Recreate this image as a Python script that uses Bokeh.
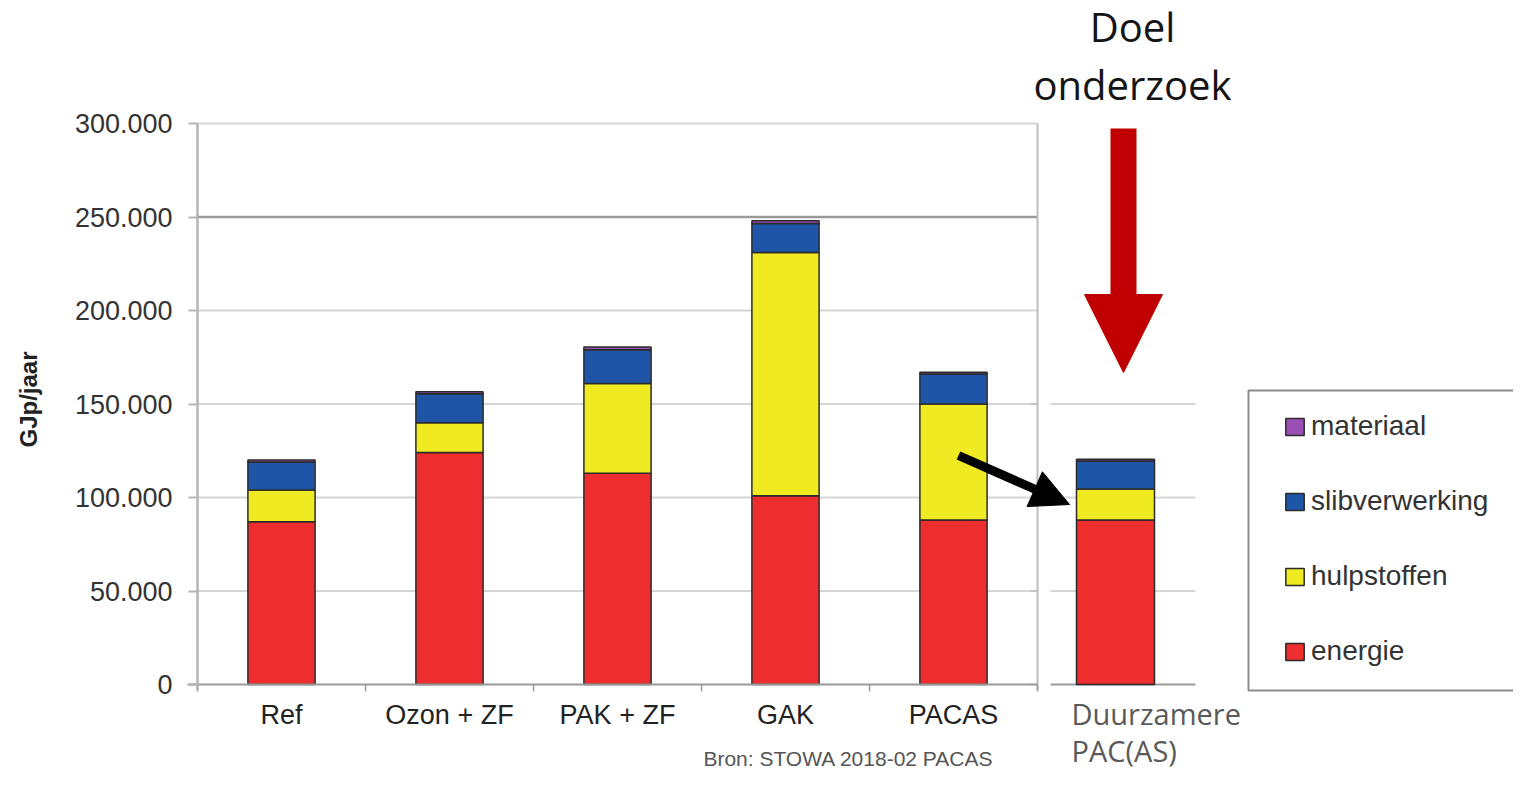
import math
from bokeh.plotting import figure
from bokeh.models import (ColumnDataSource, LinearAxis, FixedTicker, Legend,
                          LegendItem, Arrow, NormalHead, Range1d)
from bokeh.core.properties import value
from bokeh.embed import file_html
from bokeh.resources import INLINE

# ---------------- data ----------------
categories = ["Ref", "Ozon + ZF", "PAK + ZF", "GAK", "PACAS", "Duurzamere PAC(AS)"]
energie        = [87000, 124000, 113000, 101000, 88000, 88000]
hulpstoffen    = [17000,  16000,  48000, 130000, 62000, 16500]
slibverwerking = [15000,  15500,  18000,  15500, 16000, 15000]
materiaal      = [ 1000,   1000,   1500,   1500,  1000,  1000]
series = ["energie", "hulpstoffen", "slibverwerking", "materiaal"]
colors = ["#EE2D2E", "#EFEA22", "#1F55A6", "#9B4FB5"]
y_ticks = [0, 50000, 100000, 150000, 200000, 250000, 300000]
y_tick_labels = ["0", "50.000", "100.000", "150.000", "200.000", "250.000", "300.000"]
side_grid = [0, 50000, 100000, 150000]
y_label = "GJp/jaar"
title_lines = ["Doel", "onderzoek"]
source_note = "Bron: STOWA 2018-02 PACAS"

# ---------------- layout helpers (page pixels -> data) ----------------
W, H = 1513, 770
OFF = 0
PX_CAT = 168.0
X_C0 = 281.0           # page x of first category centre
Y_0 = 684.0            # page y of value 0
PX_UNIT = 561.0 / 300000.0

def dx(px):
    return (px - X_C0) / PX_CAT

def dy(py):
    return (Y_0 - py) / PX_UNIT

def mid(baseline_py, size):
    # anchor for a middle-baseline text whose letters sit on baseline_py
    return dy(baseline_py - 0.40 * size)

p = figure(width=W, height=H, x_range=Range1d(dx(OFF), dx(OFF + W)),
           y_range=Range1d(dy(OFF + H), dy(OFF)),
           x_axis_type=None, y_axis_type=None, toolbar_location=None,
           output_backend="svg", min_border=0, outline_line_color=None,
           background_fill_color="white", border_fill_color="white")

n_main = 5
main_x = list(range(n_main))
bar_x = main_x + [dx(1115)]
bar_w = [0.4] * n_main + [78 / PX_CAT]

# ---------------- grid lines ----------------
gv = y_ticks[1:]
p.segment(x0=[-0.5] * len(gv), x1=[n_main - 0.5] * len(gv), y0=gv, y1=gv,
          line_color=["#9a9a9a" if v == 250000 else "#d6d6d6" for v in gv],
          line_width=[2.5 if v == 250000 else 2 for v in gv])
p.segment(x0=[dx(1050)] * len(side_grid), x1=[dx(1195)] * len(side_grid),
          y0=side_grid, y1=side_grid,
          line_color=["#9a9a9a" if v == 0 else "#d6d6d6" for v in side_grid],
          line_width=2)
# right border of main panel
p.segment(x0=[n_main - 0.5], x1=[n_main - 0.5], y0=[dy(690)], y1=[y_ticks[-1]],
          line_color="#bdbdbd", line_width=2)
# small ticks of side panel
p.segment(x0=[dx(1030)] * len(side_grid), x1=[n_main - 0.5] * len(side_grid),
          y0=side_grid, y1=side_grid, line_color="#bdbdbd", line_width=1.5)

# ---------------- bars ----------------
src = ColumnDataSource(dict(x=bar_x, w=bar_w, energie=energie, hulpstoffen=hulpstoffen,
                            slibverwerking=slibverwerking, materiaal=materiaal))
renderers = p.vbar_stack(series, x="x", width="w", source=src,
                         fill_color=colors, line_color="#2b2b2b", line_width=1.5)

# ---------------- axes ----------------
yaxis = LinearAxis(fixed_location=-0.5, bounds=(dy(690), y_ticks[-1]),
                   ticker=FixedTicker(ticks=y_ticks, minor_ticks=[]),
                   major_label_overrides=dict(zip(y_ticks, y_tick_labels)),
                   axis_line_color="#b5b5b5", axis_line_width=2.5,
                   major_tick_out=9, major_tick_in=0, major_tick_line_color="#b5b5b5",
                   major_tick_line_width=2, minor_tick_out=0, minor_tick_in=0,
                   major_label_text_font="Liberation Sans",
                   major_label_text_font_size="27px",
                   major_label_text_color="#333333", major_label_standoff=16)
p.add_layout(yaxis, "left")

xaxis = LinearAxis(fixed_location=0, bounds=(dx(187), n_main - 0.5),
                   ticker=FixedTicker(ticks=main_x,
                                      minor_ticks=[i - 0.5 for i in range(n_main + 1)]),
                   major_label_overrides={i: categories[i] for i in main_x},
                   axis_line_color="#9a9a9a", axis_line_width=2,
                   major_tick_out=0, major_tick_in=0,
                   minor_tick_out=7, minor_tick_in=0, minor_tick_line_color="#9a9a9a",
                   minor_tick_line_width=1.5,
                   major_label_text_font="Liberation Sans",
                   major_label_text_font_size="27px",
                   major_label_text_color="#222222", major_label_standoff=8)
p.add_layout(xaxis, "below")

# ---------------- legend ----------------
p.quad(left=[dx(1248)], right=[dx(1545)], top=[dy(390)], bottom=[dy(690)],
       fill_color=None, line_color="#8c8c8c", line_width=2)
items = [LegendItem(label=s, renderers=[r]) for s, r in zip(series, renderers)][::-1]
legend = Legend(items=items, location=(1283, H - 667), orientation="vertical",
                border_line_color=None, background_fill_alpha=0, padding=0, margin=0,
                spacing=43, label_height=30, glyph_height=21, glyph_width=23,
                label_standoff=5, label_text_font="Liberation Sans",
                label_text_font_size="28px", label_text_color="#333333")
p.add_layout(legend)

# ---------------- annotations ----------------
p.add_layout(Arrow(x_start=dx(1123), y_start=dy(128), x_end=dx(1123), y_end=dy(372),
                   line_width=26, line_color="#C00000",
                   end=NormalHead(size=78, fill_color="#C00000", line_color="#C00000",
                                  line_width=1)))
p.add_layout(Arrow(x_start=dx(958), y_start=dy(455), x_end=dx(1069), y_end=dy(504),
                   line_width=9, line_color="black",
                   end=NormalHead(size=38, fill_color="black", line_color="black",
                                  line_width=1)))

p.text(x=[dx(1132), dx(1132)], y=[mid(42, 40), mid(100, 40)], text=title_lines,
       text_align="center", text_baseline="middle",
       text_font=value("Open Sans"), text_font_size="40px", text_color="#151515")

last_lines = categories[-1].split(" ")
p.text(x=[dx(1071), dx(1071)], y=[mid(725, 29), mid(762, 29)], text=last_lines,
       text_align="left", text_baseline="middle",
       text_font=value("Open Sans"), text_font_size="29px", text_color="#595959")

p.text(x=[dx(848)], y=[mid(766, 21)], text=[source_note], text_align="center",
       text_baseline="middle", text_font=value("Liberation Sans"),
       text_font_size="21px", text_color="#555555")

p.text(x=[dx(28)], y=[dy(399)], text=[y_label], angle=math.pi / 2,
       text_align="center", text_baseline="middle", text_font=value("Liberation Sans"),
       text_font_style="bold", text_font_size="24px", text_color="#222222")

open("out.html", "w").write(file_html(p, INLINE))
